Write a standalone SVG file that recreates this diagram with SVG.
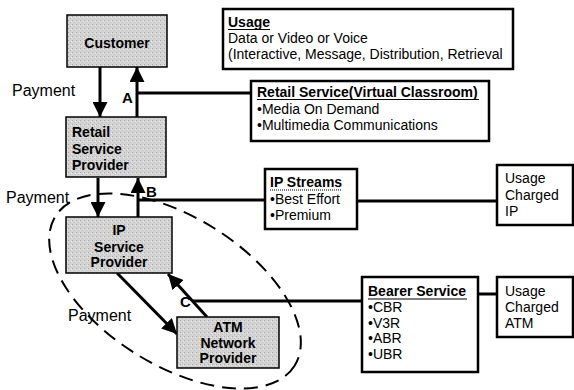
<svg xmlns="http://www.w3.org/2000/svg" width="574" height="390" viewBox="0 0 574 390">
<defs>
<style>
.t{font-family:"Liberation Sans",Arial,sans-serif;font-size:14px;fill:#000}
.b{font-weight:bold}
.lbl{font-family:"Liberation Sans",Arial,sans-serif;font-size:16px;fill:#000}
.let{font-family:"Liberation Sans",Arial,sans-serif;font-size:15px;font-weight:bold;fill:#000}
.gray{fill:url(#stip);stroke:#000;stroke-width:1.5}
.wbox{fill:#fff;stroke:#000;stroke-width:2.5}
.con{stroke:#000;stroke-width:3;fill:none}
.ul{stroke:#000;stroke-width:1.2}
</style>
<pattern id="stip" width="4" height="4" patternUnits="userSpaceOnUse">
<rect width="4" height="4" fill="#d4d4d4"/>
<rect x="0" y="0" width="1" height="1" fill="#a8a8a8"/>
<rect x="2" y="2" width="1" height="1" fill="#bdbdbd"/>
<rect x="3" y="1" width="1" height="1" fill="#ececec"/>
</pattern>
<marker id="ah" markerUnits="userSpaceOnUse" markerWidth="15" markerHeight="15" refX="15" refY="7.5" orient="auto">
<path d="M0,0 L15,7.5 L0,15 z" fill="#000"/>
</marker>
</defs>
<rect width="574" height="390" fill="#fff"/>

<g id="connectors">
<line class="con" x1="100" y1="67" x2="100" y2="117" marker-end="url(#ah)"/>
<line class="con" x1="137" y1="117" x2="137" y2="67" marker-end="url(#ah)"/>
<line class="con" x1="137" y1="93" x2="251" y2="93"/>
<line class="con" x1="98" y1="178" x2="98" y2="217" marker-end="url(#ah)"/>
<line class="con" x1="138" y1="217" x2="138" y2="178" marker-end="url(#ah)"/>
<line class="con" x1="138" y1="200" x2="265" y2="200"/>
<line class="con" x1="357" y1="201" x2="497" y2="201"/>
<line class="con" x1="117" y1="273" x2="177" y2="334" marker-end="url(#ah)"/>
<line class="con" x1="207" y1="317" x2="168" y2="274" marker-end="url(#ah)"/>
<line class="con" x1="193" y1="301" x2="362" y2="301"/>
<line class="con" x1="478" y1="294" x2="497" y2="294"/>
<ellipse cx="175" cy="291" rx="141" ry="74" transform="rotate(32 175 291)" fill="none" stroke="#000" stroke-width="2" stroke-dasharray="14 8"/>
<text class="lbl" x="12" y="96">Payment</text>
<text class="lbl" x="6" y="203">Payment</text>
<text class="lbl" x="68" y="321">Payment</text>
<text class="let" x="122" y="103">A</text>
<text class="let" x="146" y="197">B</text>
<text class="let" x="180" y="307">C</text>
</g>

<g id="customer">
<rect class="gray" x="67" y="15" width="100" height="52"/>
<text class="t b" x="117" y="48" text-anchor="middle">Customer</text>
</g>

<g id="retail-provider">
<rect class="gray" x="66" y="117" width="100" height="60"/>
<text class="t b" x="72" y="137">Retail</text>
<text class="t b" x="72" y="154">Service</text>
<text class="t b" x="72" y="170">Provider</text>
</g>

<g id="ip-provider">
<rect class="gray" x="66" y="217" width="106" height="56"/>
<text class="t b" x="119" y="235" text-anchor="middle">IP</text>
<text class="t b" x="119" y="252" text-anchor="middle">Service</text>
<text class="t b" x="119" y="267" text-anchor="middle">Provider</text>
</g>

<g id="atm-provider">
<rect class="gray" x="177" y="317" width="102" height="51"/>
<text class="t b" x="228" y="332" text-anchor="middle">ATM</text>
<text class="t b" x="228" y="348" text-anchor="middle">Network</text>
<text class="t b" x="228" y="363" text-anchor="middle">Provider</text>
</g>

<g id="usage">
<rect class="wbox" x="223" y="9" width="290" height="60"/>
<text class="t b" x="228" y="27">Usage</text>
<line class="ul" x1="228" y1="29.5" x2="270" y2="29.5"/>
<text class="t" x="228" y="43">Data or Video or Voice</text>
<text class="t" x="228" y="59">(Interactive, Message, Distribution, Retrieval</text>
</g>

<g id="retail-service">
<rect class="wbox" x="251" y="81" width="238" height="60"/>
<text class="t b" x="257" y="97">Retail Service(Virtual Classroom)</text>
<line class="ul" x1="257" y1="99.5" x2="479" y2="99.5"/>
<text class="t" x="257" y="114">•Media On Demand</text>
<text class="t" x="257" y="130">•Multimedia Communications</text>
</g>

<g id="ip-streams">
<rect class="wbox" x="265" y="169" width="92" height="60"/>
<text class="t b" x="270" y="187">IP Streams</text>
<line x1="270" y1="190" x2="342" y2="190" stroke="#000" stroke-width="1" stroke-dasharray="1 1"/>
<text class="t" x="270" y="204">•Best Effort</text>
<text class="t" x="270" y="220">•Premium</text>
</g>

<g id="usage-ip">
<rect class="wbox" x="497" y="165" width="76" height="60"/>
<text class="t" x="505" y="183">Usage</text>
<text class="t" x="505" y="200">Charged</text>
<text class="t" x="505" y="216">IP</text>
</g>

<g id="bearer-service">
<rect class="wbox" x="362" y="277" width="116" height="95"/>
<text class="t b" x="368" y="296">Bearer Service</text>
<line class="ul" x1="368" y1="299" x2="467" y2="299"/>
<text class="t" x="368" y="312">•CBR</text>
<text class="t" x="368" y="328">•V3R</text>
<text class="t" x="368" y="343">•ABR</text>
<text class="t" x="368" y="359">•UBR</text>
</g>

<g id="usage-atm">
<rect class="wbox" x="497" y="277" width="76" height="60"/>
<text class="t" x="505" y="296">Usage</text>
<text class="t" x="505" y="312">Charged</text>
<text class="t" x="505" y="328">ATM</text>
</g>
</svg>
